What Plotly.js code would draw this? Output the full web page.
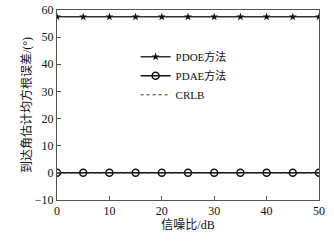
<!DOCTYPE html>
<html><head><meta charset="utf-8">
<script src="https://cdn.plot.ly/plotly-3.0.1.min.js"></script>
<style>html,body{margin:0;padding:0;background:#fff}#c{width:334px;height:241px}</style>
</head><body><div id="c"></div>
<script>
const snr = [0,5,10,15,20,25,30,35,40,45,50];
const pdoe = [57.5,57.5,57.5,57.5,57.5,57.5,57.5,57.5,57.5,57.5,57.5];
const pdae = [0,0,0,0,0,0,0,0,0,0,0];
const crlb = [0,0,0,0,0,0,0,0,0,0,0];
const names = ['PDOE方法','PDAE方法','CRLB'];
const xTicks = [0,10,20,30,40,50];
const yTicks = [-10,0,10,20,30,40,50,60];
const F = '"Liberation Serif","Noto Sans CJK SC",serif';
const traces = [
 {x:snr,y:pdoe,name:names[0],mode:'lines+markers',line:{color:'#333',width:1.5},marker:{symbol:'star',size:6,color:'#111'}},
 {x:snr,y:pdae,name:names[1],mode:'lines+markers',line:{color:'#111',width:1.5},marker:{symbol:'circle-open',size:7,color:'#111',line:{width:1.5}}},
 {x:snr,y:crlb,name:names[2],mode:'lines',line:{color:'#333',width:1,dash:'dot'}}
];
const ax = {showgrid:false,zeroline:false,showline:true,mirror:true,linecolor:'#555',linewidth:1,ticks:'inside',ticklen:4,tickcolor:'#555',tickfont:{family:F,size:12,color:'#111'}};
const layout = {
 width:334,height:241,margin:{l:57,r:15,t:10,b:41},paper_bgcolor:'#fff',plot_bgcolor:'#fff',
 font:{family:F,size:12,color:'#111'},
 xaxis:Object.assign({},ax,{range:[0,50],tickvals:xTicks,title:{text:'信噪比/dB',font:{family:F,size:12},standoff:2}}),
 yaxis:Object.assign({},ax,{range:[-10,60],tickvals:yTicks,title:{text:'到达角估计均方根误差/(°)',font:{family:F,size:12},standoff:0}}),
 legend:{x:0.3,y:0.83,xanchor:'left',yanchor:'top',bgcolor:'rgba(0,0,0,0)',font:{family:F,size:11},tracegroupgap:0,itemwidth:30},
 showlegend:true
};
Plotly.newPlot('c',traces,layout,{staticPlot:true,displayModeBar:false});
</script></body></html>
